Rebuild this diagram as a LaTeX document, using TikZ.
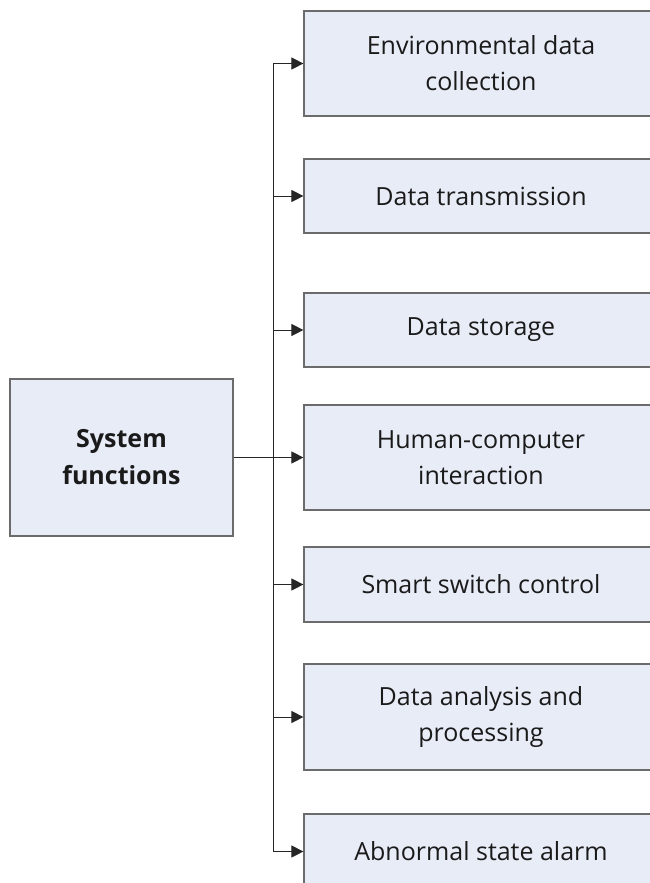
\documentclass[tikz,border=0pt]{standalone}
\usepackage{fontspec}
\setmainfont{Open Sans}
\usetikzlibrary{arrows.meta}
\definecolor{boxfill}{HTML}{E8ECF7}
\definecolor{boxline}{HTML}{6B6B6B}
\definecolor{textcol}{HTML}{1A1A1A}
\begin{document}
\begin{tikzpicture}[x=1pt,y=-1pt,
  fbox/.style={draw=boxline,fill=boxfill,line width=1.2pt,inner sep=0pt,
    text=textcol,font=\fontsize{25}{36}\selectfont,align=center},
  link/.style={draw=black!85,line width=1pt,-{Triangle[length=12pt,width=12pt]}}]
\useasboundingbox (0,0) rectangle (649,883);
% root
\node[fbox,font=\fontsize{25}{37}\selectfont\bfseries,minimum width=223pt,minimum height=157pt] (root) at (121.5,457.5) {System\\functions};
% branches
\node[fbox,minimum width=354pt,minimum height=105pt] (b1) at (481,63.5) {Environmental data\\collection};
\node[fbox,minimum width=354pt,minimum height=74pt] (b2) at (481,196) {Data transmission};
\node[fbox,minimum width=354pt,minimum height=74pt] (b3) at (481,330) {Data storage};
\node[fbox,minimum width=354pt,minimum height=105pt] (b4) at (481,457.5) {Human-computer\\interaction};
\node[fbox,minimum width=354pt,minimum height=75pt] (b5) at (481,584.5) {Smart switch control};
\node[fbox,minimum width=354pt,minimum height=106pt] (b6) at (481,717) {Data analysis and\\processing};
\node[fbox,minimum width=354pt,minimum height=75pt] (b7) at (481,851.5) {Abnormal state alarm};
% trunk
\coordinate (tk) at (273,457.5);
\draw[draw=black!85,line width=1pt] (root.east) -- (tk);
\foreach \b in {b1,b2,b3,b4,b5,b6,b7}
  \draw[link] (tk) |- (\b.west);
\end{tikzpicture}
\end{document}
